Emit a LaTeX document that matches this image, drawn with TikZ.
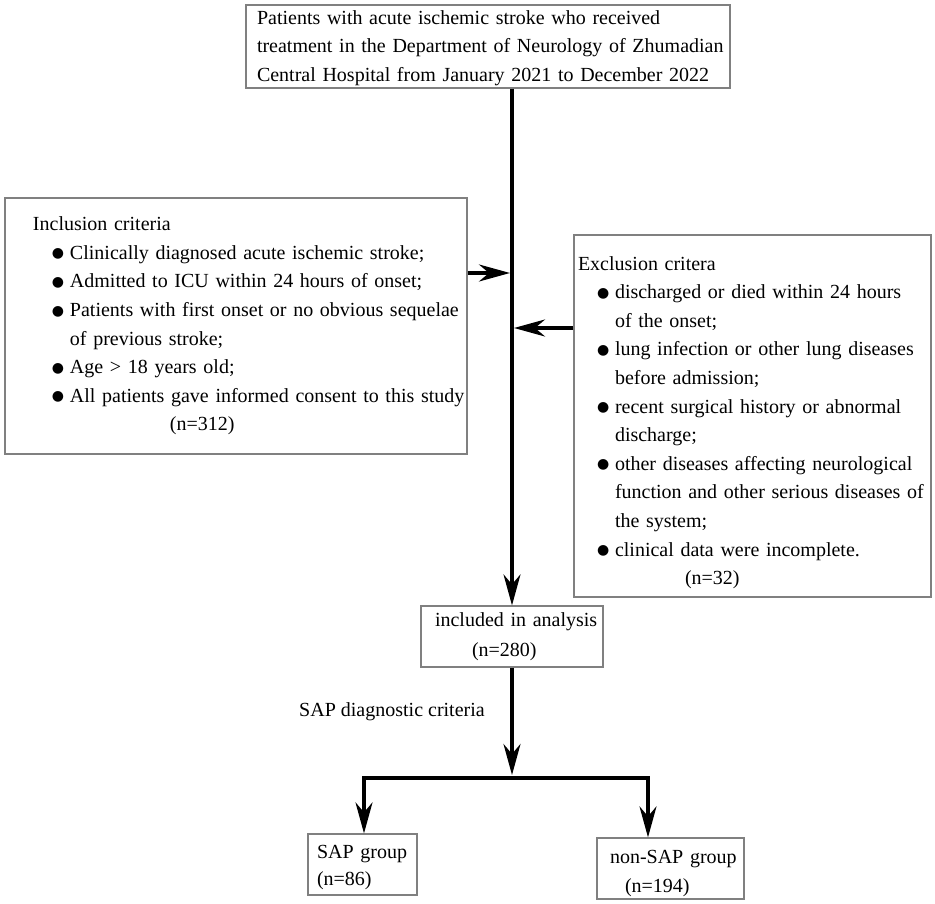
\documentclass[tikz,border=0pt]{standalone}
\usepackage{fontspec}
\setmainfont{Liberation Serif}
\newfontfamily\symfont{DejaVu Sans}
\usepackage{tikz}
\usetikzlibrary{arrows.meta}

\newcommand{\bl}{\hspace*{19pt}\makebox[18pt][l]{\raisebox{1.5pt}{\symfont\fontsize{14}{14}\selectfont ●}}}
\newcommand{\cont}{\hspace*{37pt}}

\tikzset{
  box/.style={draw=gray, line width=1.2pt, align=left, inner xsep=0pt, inner ysep=0pt,
    font=\fontsize{20}{28.6}\selectfont},
  pad/.style={execute at begin node={\leftskip=#1\rightskip=-20pt plus 1fil\relax}},
  flow/.style={line width=3.2pt, -{Stealth[length=31pt, width=17pt, inset=10pt]}},
  link/.style={line width=3.2pt, line cap=rect}
}

\begin{document}
\begin{tikzpicture}[x=1pt, y=-1pt]
        \useasboundingbox (0,0) rectangle (935,904);
        \node[box, pad=11pt, text width=484pt, minimum height=83pt, text height=17pt] (top) at (488,46.5)
            {Patients with acute ischemic stroke who received\\
             treatment in the Department of Neurology of Zhumadian\\
             Central Hospital from January 2021 to December 2022};
        \node[box, pad=28pt, text width=462pt, minimum height=256pt] (incl) at (236,326)
            {Inclusion criteria\\
             \bl Clinically diagnosed acute ischemic stroke;\\
             \bl Admitted to ICU within 24 hours of onset;\\
             \bl Patients with first onset or no obvious sequelae\\
             \cont of previous stroke;\\
             \bl Age > 18 years old;\\
             \bl All patients gave informed consent to this study\\
             \hspace*{137pt}(n=312)};
        \node[box, pad=4pt, text width=357pt, minimum height=362pt, text height=27pt] (excl) at (752.5,416)
            {Exclusion critera\\
             \bl discharged or died within 24 hours\\
             \cont of the onset;\\
             \bl lung infection or other lung diseases\\
             \cont before admission;\\
             \bl recent surgical history or abnormal\\
             \cont discharge;\\
             \bl other diseases affecting neurological\\
             \cont function and other serious diseases of\\
             \cont the system;\\
             \bl clinical data were incomplete.\\
             \hspace*{107pt}(n=32)};
        \node[box, pad=14pt, text width=182pt, minimum height=61pt] (inc) at (512,636.5)
            {included in analysis\\[1.4pt]\cont(n=280)};
        \node[box, pad=9pt, text width=109pt, minimum height=61pt, text height=20pt] (sap) at (362.5,864.5)
            {SAP group\\[-1.6pt](n=86)};
        \node[box, pad=13pt, text width=147pt, minimum height=61pt, text height=24pt] (nonsap) at (670.5,868.5)
            {non-SAP group\\[0.4pt]\hspace*{15pt}(n=194)};
        \node[font=\fontsize{20}{24}\selectfont, inner sep=0pt] (crit) at (392,712) {SAP diagnostic criteria};
        \coordinate (jin) at (510,273);
        \coordinate (jex) at (514,328);
        \coordinate (split) at (512,775);
        \coordinate (lft) at (364,778);
        \coordinate (rgt) at (648,778);
        \draw[flow] (top.south -| inc.north) -- (inc.north);
        \draw[flow] (incl.east |- jin) -- (jin);
        \draw[flow] (excl.west |- jex) -- (jex);
        \draw[flow] (inc.south) -- (split);
        \draw[link] (lft) -- (rgt);
        \draw[flow] (lft) -- (lft |- sap.north);
        \draw[flow] (rgt) -- (rgt |- nonsap.north);
    \end{tikzpicture}
\end{document}
